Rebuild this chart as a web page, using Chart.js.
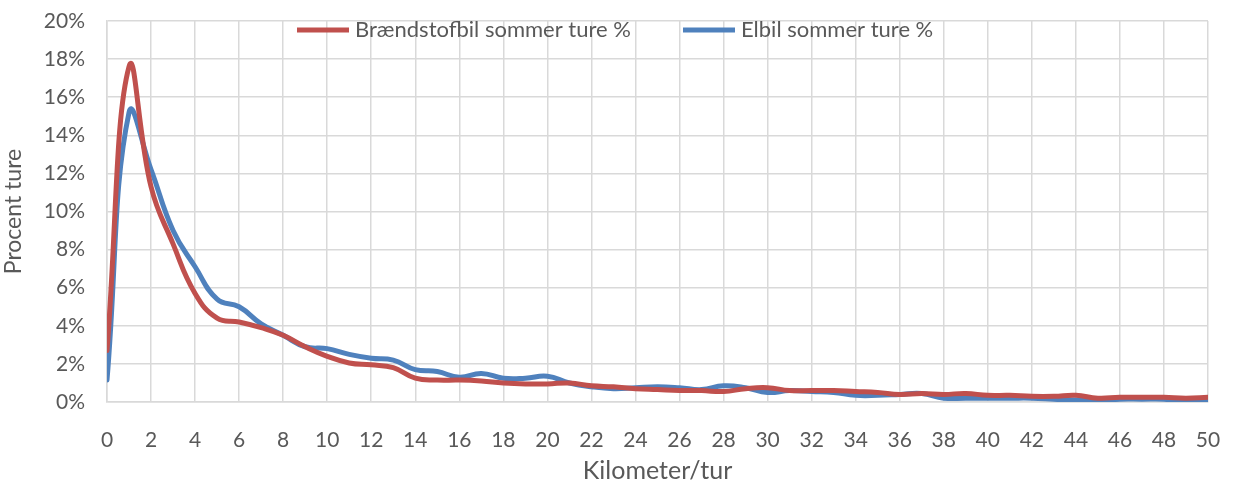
<!DOCTYPE html>
<html>
<head>
<meta charset="utf-8">
<script src="https://cdn.jsdelivr.net/npm/chart.js@4/dist/chart.umd.min.js"></script>
<style>
html,body{margin:0;padding:0;background:#fff;}
#wrap{width:1236px;height:486px;}
</style>
</head>
<body>
<div id="wrap"><canvas id="c" width="1236" height="486"></canvas></div>
<script>
const km = [0,1,2,3,4,5,6,7,8,9,10,11,12,13,14,15,16,17,18,19,20,21,22,23,24,25,26,27,28,29,30,31,32,33,34,35,36,37,38,39,40,41,42,43,44,45,46,47,48,49,50];
const braendstof = [2.7,17.6,11.3,8.3,5.7,4.4,4.2,3.9,3.5,2.9,2.4,2.05,1.95,1.8,1.25,1.15,1.15,1.1,1.0,0.95,0.95,1.0,0.85,0.8,0.7,0.65,0.6,0.6,0.55,0.7,0.75,0.6,0.6,0.6,0.55,0.5,0.4,0.45,0.4,0.45,0.35,0.35,0.3,0.3,0.35,0.2,0.25,0.25,0.25,0.2,0.25];
const elbil = [1.15,15.2,12.2,9.0,7.1,5.4,5.0,4.1,3.5,2.9,2.8,2.5,2.3,2.2,1.7,1.6,1.3,1.5,1.25,1.25,1.35,1.0,0.8,0.7,0.75,0.8,0.75,0.65,0.85,0.75,0.5,0.6,0.55,0.5,0.35,0.35,0.4,0.45,0.2,0.2,0.2,0.2,0.2,0.15,0.1,0.1,0.15,0.15,0.15,0.05,0.05];
const seriesLabels = ['Brændstofbil sommer ture %','Elbil sommer ture %'];
const xTitle = 'Kilometer/tur';
const yTitle = 'Procent ture';

const FONT = 'Lato, "Open Sans", sans-serif';
const TXT = '#595959';
const GRID = '#d9d9d9';

const legendPlugin = {
  id: 'inLegend',
  afterDatasetsDraw(chart) {
    const ctx = chart.ctx;
    const a = chart.chartArea;
    const starts = [297, 683];
    ctx.save();
    ctx.font = '22px ' + FONT;
    ctx.textBaseline = 'middle';
    ctx.fillStyle = TXT;
    chart.data.datasets.forEach((ds, i) => {
      const x = starts[i];
      const y = a.top + 9;
      ctx.strokeStyle = ds.borderColor;
      ctx.lineWidth = 5;
      ctx.beginPath();
      ctx.moveTo(x, y);
      ctx.lineTo(x + 52, y);
      ctx.stroke();
      ctx.fillText(ds.label, x + 58, y);
    });
    ctx.restore();
  }
};

new Chart(document.getElementById('c'), {
  type: 'line',
  data: {
    datasets: [
      { label: seriesLabels[0], data: km.map((k,i)=>({x:k,y:braendstof[i]})), borderColor: '#C0504D', backgroundColor: '#C0504D', borderWidth: 5, pointRadius: 0, tension: 0.45, borderCapStyle:'round', borderJoinStyle:'round' },
      { label: seriesLabels[1], data: km.map((k,i)=>({x:k,y:elbil[i]})), borderColor: '#4F81BD', backgroundColor: '#4F81BD', borderWidth: 5, pointRadius: 0, tension: 0.45, borderCapStyle:'round', borderJoinStyle:'round' }
    ]
  },
  options: {
    responsive: false,
    animation: false,
    layout: { padding: { top: 21, right: 28, left: 0, bottom: 0 } },
    plugins: { legend: { display: false }, tooltip: { enabled: false } },
    scales: {
      x: {
        type: 'linear', min: 0, max: 50,
        afterFit(s) { s.height = 84; s.paddingLeft = 0; s.paddingRight = 0; },
        ticks: { stepSize: 2, color: TXT, font: { family: FONT, size: 21 }, padding: 26, maxRotation: 0 },
        grid: { color: GRID, lineWidth: 1.5, drawTicks: false },
        border: { color: GRID, width: 1.5 },
        title: { display: true, text: xTitle, color: TXT, font: { family: FONT, size: 25 }, padding: { top: 0, bottom: 0 } }
      },
      y: {
        min: 0, max: 20,
        afterFit(s) { s.width = 107; s.paddingTop = 0; s.paddingBottom = 0; },
        ticks: { stepSize: 2, color: TXT, font: { family: FONT, size: 21 }, padding: 22, callback: v => v + '%' },
        grid: { color: GRID, lineWidth: 1.5, drawTicks: false },
        border: { color: GRID, width: 1.5 },
        title: { display: true, text: yTitle, color: TXT, font: { family: FONT, size: 23 }, padding: { top: 0, bottom: 6 } }
      }
    }
  },
  plugins: [legendPlugin]
});
</script>
</body>
</html>
